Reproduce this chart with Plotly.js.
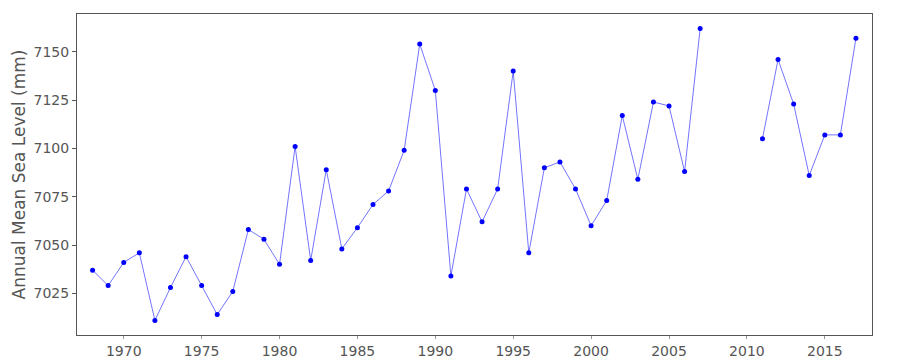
<!DOCTYPE html>
<html>
<head>
<meta charset="utf-8">
<script src="https://cdn.plot.ly/plotly-3.0.1.min.js"></script>
<style>html,body{margin:0;padding:0;background:#fff;}#chart{width:900px;height:360px;}</style>
</head>
<body>
<div id="chart"></div>
<script>
const years = [1968,1969,1970,1971,1972,1973,1974,1975,1976,1977,1978,1979,1980,1981,1982,1983,1984,1985,1986,1987,1988,1989,1990,1991,1992,1993,1994,1995,1996,1997,1998,1999,2000,2001,2002,2003,2004,2005,2006,2007,2008,2009,2010,2011,2012,2013,2014,2015,2016,2017];
const seaLevel = [7037,7029,7041,7046,7011,7028,7044,7029,7014,7026,7058,7053,7040,7101,7042,7089,7048,7059,7071,7078,7099,7154,7130,7034,7079,7062,7079,7140,7046,7090,7093,7079,7060,7073,7117,7084,7124,7122,7088,7162,null,null,null,7105,7146,7123,7086,7107,7107,7157];
const yTickVals = [7025,7050,7075,7100,7125,7150];
const xTickVals = [1970,1975,1980,1985,1990,1995,2000,2005,2010,2015];

const trace = {
  x: years, y: seaLevel, type: 'scatter', mode: 'lines+markers',
  connectgaps: false,
  line: {color: 'rgba(0,0,255,0.55)', width: 1},
  marker: {color: '#0000ff', size: 5}
};
const axisFont = {family: 'DejaVu Sans', size: 14, color: '#555'};
const layout = {
  width: 900, height: 360,
  margin: {l: 77, r: 28, t: 14, b: 25, pad: 0},
  paper_bgcolor: '#fff', plot_bgcolor: '#fff',
  showlegend: false,
  font: {family: 'DejaVu Sans', color: '#555'},
  xaxis: {
    range: [1967, 2018.03], tickvals: xTickVals, ticktext: xTickVals.map(String),
    showgrid: false, zeroline: false, showline: true, linecolor: '#555', linewidth: 1, mirror: true,
    ticks: 'outside', ticklen: 3, tickcolor: '#999', tickwidth: 1, tickfont: axisFont
  },
  yaxis: {
    range: [7003.45, 7169.55], tickvals: yTickVals, ticktext: yTickVals.map(String),
    showgrid: false, zeroline: false, showline: true, linecolor: '#555', linewidth: 1, mirror: true,
    ticks: 'outside', ticklen: 4, tickcolor: '#555', tickwidth: 1, tickfont: axisFont,
    title: {text: 'Annual Mean Sea Level (mm)', font: {family: 'DejaVu Sans', size: 17, color: '#555'}, standoff: 3}
  }
};
Plotly.newPlot('chart', [trace], layout, {displayModeBar: false, staticPlot: true});
</script>
</body>
</html>
